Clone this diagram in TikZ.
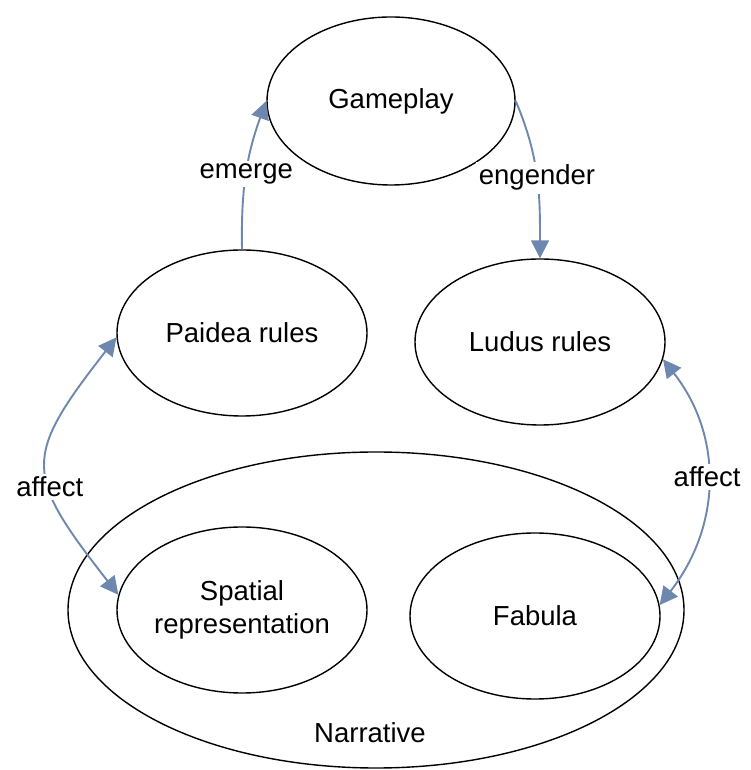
\documentclass[tikz,border=0pt]{standalone}
\usepackage{fontspec}
\setmainfont{Liberation Sans}
\usetikzlibrary{shapes.geometric,arrows.meta}
\definecolor{linkblue}{HTML}{6E87AF}
\begin{document}
\begin{tikzpicture}[x=1pt,y=1pt,
  >={Triangle[length=18pt,width=18pt]},
  bubble/.style={ellipse, draw=black, line width=1.4pt, inner sep=0pt,
    minimum width=250pt, minimum height=166pt, align=center,
    font=\fontsize{27.5}{33}\selectfont},
  conn/.style={draw=linkblue, line width=1.9pt},
  lbl/.style={fill=white, inner sep=3pt, text=black,
    font=\fontsize{27.5}{33}\selectfont},
  plain/.style={inner sep=0pt, text=black, font=\fontsize{27.5}{33}\selectfont}]
\useasboundingbox (0,0) rectangle (750,770);
% outer narrative ellipse
\node[bubble, minimum width=616pt, minimum height=316pt] (narr) at (376,160) {};
\node[plain] (narrlbl) at (370,37) {Narrative};
% nodes
\node[bubble, minimum width=248pt, minimum height=168pt] (game) at (391,669) {Gameplay};
\node[bubble] (paidea) at (242,437) {Paidea rules};
\node[bubble] (ludus) at (540,428) {Ludus rules};
\node[bubble] (spatial) at (242,160) {Spatial\\representation};
\node[bubble] (fabula) at (535,154) {Fabula};
% connectors
\draw[conn,->] (paidea.north) to[out=91,in=250] node[lbl,pos=0.5]{emerge} (game.west);
\draw[conn,->] (game.east) to[out=-67,in=90] node[lbl,pos=0.5]{engender} (ludus.north);
\draw[conn,<->] (paidea.182) to[out=232,in=128,looseness=1.52] node[lbl,pos=0.6]{affect} (spatial.173);
\draw[conn,<->] (ludus.352) to[out=-52,in=52,looseness=1.03] node[lbl,pos=0.48]{affect} (fabula.5);
\end{tikzpicture}
\end{document}
